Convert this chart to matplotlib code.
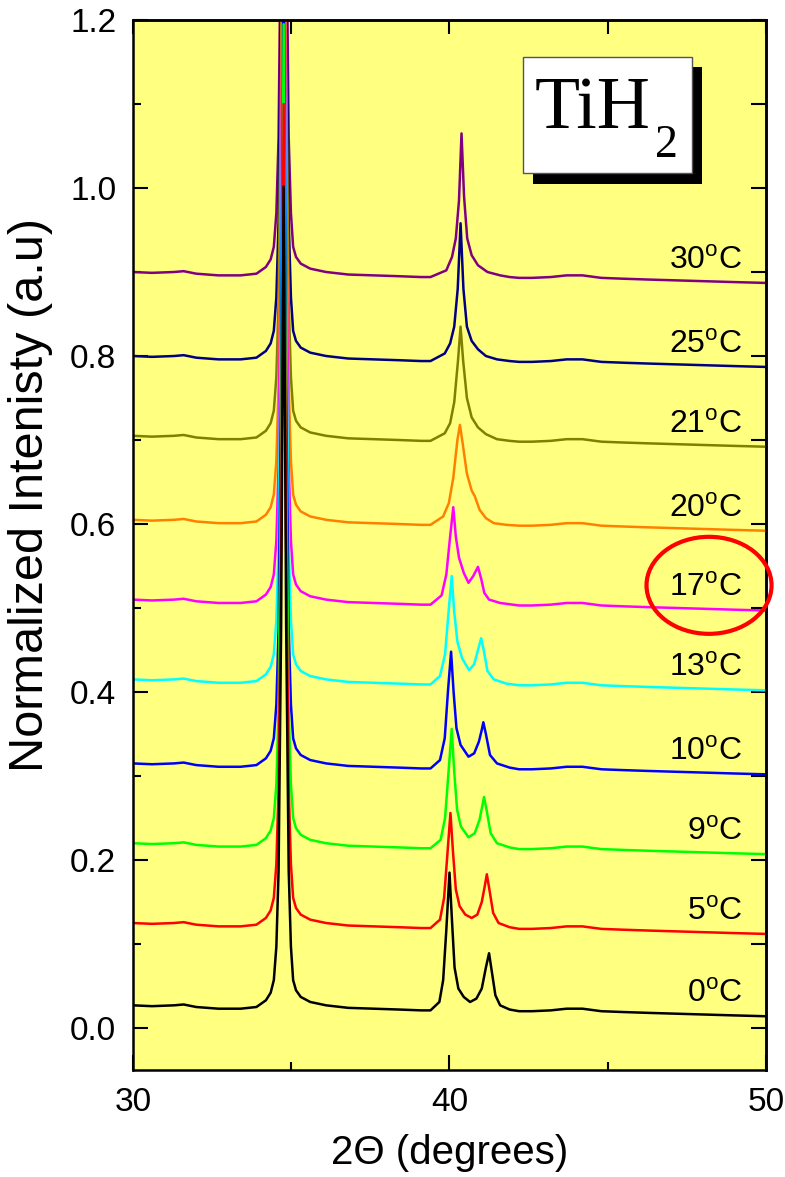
import numpy as np
import matplotlib
matplotlib.use("Agg")
import matplotlib.pyplot as plt
from matplotlib.patches import Ellipse, Rectangle
from matplotlib.ticker import MultipleLocator

plt.rcParams['font.family'] = ['Liberation Sans', 'DejaVu Sans']
plt.rcParams['mathtext.fontset'] = 'custom'
plt.rcParams['mathtext.rm'] = 'Liberation Sans'

# temperatures, colours and left baseline of every scan (offset already included)
temps = [0, 5, 9, 10, 13, 17, 20, 21, 25, 30]
colors = ['#000000', '#FF0000', '#00FF00', '#0000FF', '#00FFFF',
          '#FF00FF', '#FF8000', '#808000', '#000080', '#800080']
base = [0.027, 0.125, 0.22, 0.315, 0.415, 0.51, 0.605, 0.705, 0.80, 0.90]

# main TiH2 peak, same shape for all scans (above baseline)
x_main = [30.0, 30.6, 31.3, 31.6, 32.0, 32.7, 33.4, 33.9, 34.2, 34.35, 34.45, 34.53,
          34.6, 34.68, 34.76, 34.84, 34.92, 34.99, 35.06, 35.15, 35.3, 35.6, 36.1,
          36.8, 37.6, 38.4, 39.1]
y_main = [0.0, -0.001, 0.0, 0.001, -0.002, -0.004, -0.004, -0.002, 0.006, 0.015, 0.03, 0.07,
          0.16, 0.45, 0.975, 0.45, 0.16, 0.07, 0.03, 0.018, 0.01, 0.004, 0.0,
          -0.003, -0.004, -0.005, -0.006]

# region around 40-41 degrees, one pair of lists per scan (above baseline)
x40_0 = [39.4, 39.68, 39.8, 39.9, 40.0, 40.08, 40.16, 40.28, 40.45, 40.65, 40.85, 41.02, 41.15, 41.25, 41.33, 41.45, 41.6, 41.9, 42.2]
y40_0 = [-0.006, 0.004, 0.03, 0.09, 0.158, 0.10, 0.045, 0.02, 0.01, 0.004, 0.008, 0.02, 0.045, 0.062, 0.042, 0.012, 0.0, -0.005, -0.007]
x40_5 = [39.4, 39.7, 39.83, 39.93, 40.03, 40.11, 40.2, 40.32, 40.5, 40.7, 40.88, 41.02, 41.12, 41.18, 41.26, 41.38, 41.55, 41.9, 42.2]
y40_5 = [-0.006, 0.004, 0.03, 0.08, 0.131, 0.085, 0.04, 0.02, 0.01, 0.006, 0.01, 0.025, 0.045, 0.058, 0.04, 0.012, 0.0, -0.005, -0.007]
x40_9 = [39.4, 39.72, 39.86, 39.97, 40.07, 40.15, 40.24, 40.36, 40.6, 40.8, 40.95, 41.04, 41.09, 41.17, 41.3, 41.5, 41.9, 42.2]
y40_9 = [-0.006, 0.004, 0.03, 0.085, 0.136, 0.085, 0.04, 0.02, 0.007, 0.012, 0.028, 0.045, 0.055, 0.04, 0.012, 0.0, -0.005, -0.007]
x40_10 = [39.4, 39.7, 39.85, 39.95, 40.05, 40.13, 40.22, 40.35, 40.6, 40.78, 40.93, 41.02, 41.07, 41.15, 41.28, 41.5, 41.9, 42.2]
y40_10 = [-0.006, 0.004, 0.03, 0.085, 0.133, 0.085, 0.042, 0.022, 0.008, 0.012, 0.026, 0.04, 0.049, 0.035, 0.01, 0.0, -0.005, -0.007]
x40_13 = [39.4, 39.7, 39.86, 39.97, 40.07, 40.15, 40.25, 40.4, 40.62, 40.78, 40.9, 41.0, 41.08, 41.2, 41.4, 41.8, 42.2]
y40_13 = [-0.006, 0.004, 0.03, 0.08, 0.123, 0.08, 0.045, 0.025, 0.011, 0.018, 0.035, 0.049, 0.035, 0.01, 0.0, -0.005, -0.007]
x40_17 = [39.4, 39.75, 39.9, 40.02, 40.12, 40.2, 40.3, 40.45, 40.6, 40.75, 40.9, 41.0, 41.1, 41.25, 41.6, 42.2]
y40_17 = [-0.006, 0.005, 0.03, 0.075, 0.11, 0.075, 0.05, 0.032, 0.02, 0.028, 0.039, 0.025, 0.008, 0.0, -0.004, -0.007]
x40_20 = [39.4, 39.8, 39.98, 40.12, 40.25, 40.33, 40.42, 40.55, 40.7, 40.8, 40.95, 41.15, 41.4, 41.8, 42.2]
y40_20 = [-0.006, 0.004, 0.02, 0.05, 0.095, 0.113, 0.09, 0.055, 0.035, 0.028, 0.012, 0.002, -0.004, -0.006, -0.007]
x40_21 = [39.4, 39.85, 40.02, 40.15, 40.27, 40.35, 40.43, 40.55, 40.7, 40.9, 41.15, 41.5, 41.9, 42.2]
y40_21 = [-0.006, 0.003, 0.015, 0.04, 0.09, 0.13, 0.09, 0.045, 0.022, 0.01, 0.002, -0.004, -0.006, -0.007]
x40_25 = [39.4, 39.85, 40.02, 40.15, 40.26, 40.35, 40.44, 40.55, 40.7, 40.9, 41.15, 41.5, 41.9, 42.2]
y40_25 = [-0.006, 0.003, 0.015, 0.035, 0.08, 0.158, 0.08, 0.035, 0.018, 0.008, 0.0, -0.004, -0.006, -0.007]
x40_30 = [39.4, 39.9, 40.08, 40.2, 40.3, 40.38, 40.46, 40.56, 40.7, 40.9, 41.2, 41.6, 41.9, 42.2]
y40_30 = [-0.006, 0.002, 0.018, 0.04, 0.085, 0.165, 0.09, 0.04, 0.02, 0.008, 0.0, -0.004, -0.006, -0.007]

x40 = [x40_0, x40_5, x40_9, x40_10, x40_13, x40_17, x40_20, x40_21, x40_25, x40_30]
y40 = [y40_0, y40_5, y40_9, y40_10, y40_13, y40_17, y40_20, y40_21, y40_25, y40_30]

# slowly sloping background after the peaks (above left baseline)
x_tail = [42.6, 43.2, 43.7, 44.2, 44.8, 45.5, 46.3, 47.2, 48.1, 49.0, 50.0]
y_tail = [-0.007, -0.006, -0.004, -0.004, -0.007, -0.008, -0.009, -0.010, -0.011, -0.012, -0.013]

fig = plt.figure(figsize=(7.85, 11.77), dpi=100)
ax = fig.add_axes([0.1694, 0.0909, 0.8064, 0.8921])
ax.set_facecolor('#FFFF80')

for i in reversed(range(len(temps))):
    xs = np.concatenate([x_main, x40[i], x_tail])
    ys = base[i] + np.concatenate([y_main, y40[i], y_tail])
    ax.plot(xs, ys, color=colors[i], lw=1.8)
    ax.text(49.25, base[i] + 0.004, str(temps[i]) + r'$^{\mathrm{o}}$C',
            ha='right', va='baseline', fontsize=23)

ax.set_xlim(30, 50)
ax.set_ylim(-0.05, 1.2)
ax.xaxis.set_major_locator(MultipleLocator(10))
ax.xaxis.set_minor_locator(MultipleLocator(5))
ax.yaxis.set_major_locator(MultipleLocator(0.2))
ax.yaxis.set_minor_locator(MultipleLocator(0.1))
ax.yaxis.set_major_formatter(matplotlib.ticker.FormatStrFormatter('%.1f'))
ax.tick_params(which='major', direction='in', length=11, width=1.5, labelsize=24, pad=12)
ax.tick_params(which='minor', direction='in', length=6, width=1.5)
for s in ax.spines.values():
    s.set_linewidth(1.8)

sec_y = ax.secondary_yaxis('right')
sec_y.yaxis.set_major_locator(MultipleLocator(0.1))
sec_y.tick_params(direction='in', length=11, width=1.5, labelright=False)
sec_y.spines['right'].set_linewidth(1.8)
sec_x = ax.secondary_xaxis('top')
sec_x.xaxis.set_major_locator(MultipleLocator(5))
sec_x.tick_params(direction='in', length=10, width=1.5, labeltop=False)
sec_x.spines['top'].set_linewidth(1.8)

ax.set_xlabel('2\u0398 (degrees)', fontsize=29, labelpad=12)
ax.set_ylabel('Normalized Intenisty (a.u)', fontsize=35)
ax.yaxis.set_label_coords(-0.126, 0.548)

# TiH2 label box with drop shadow
ax.add_patch(Rectangle((0.632, 0.844), 0.267, 0.111, transform=ax.transAxes,
                       facecolor='black', edgecolor='none', zorder=5))
ax.add_patch(Rectangle((0.616, 0.854), 0.267, 0.111, transform=ax.transAxes,
                       facecolor='white', edgecolor='#555555', lw=1.0, zorder=6))
ax.text(0.635, 0.897, 'TiH', transform=ax.transAxes, fontsize=53,
        family='Liberation Serif', ha='left', va='baseline', zorder=7)
ax.text(0.824, 0.8695, '2', transform=ax.transAxes, fontsize=33,
        family='Liberation Serif', ha='left', va='baseline', zorder=7)

# red ellipse around the 17C label
ax.add_patch(Ellipse((48.2, 0.527), 3.95, 0.1155, facecolor='none',
                     edgecolor='#FF0000', lw=3, clip_on=False, zorder=8))

fig.savefig('out.png', dpi=100)
